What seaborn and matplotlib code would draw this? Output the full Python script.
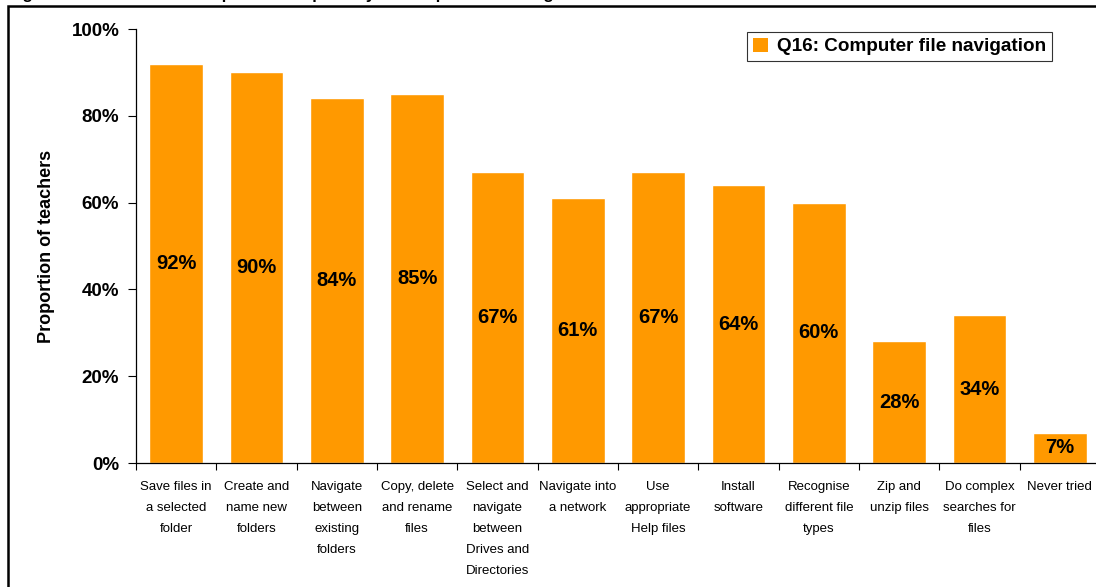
import matplotlib
matplotlib.use("Agg")
import matplotlib.pyplot as plt
import matplotlib.patches as mpatches
from matplotlib.ticker import FixedLocator, PercentFormatter
import seaborn as sns
import pandas as pd

categories = [
    "Save files in\na selected\nfolder",
    "Create and\nname new\nfolders",
    "Navigate\nbetween\nexisting\nfolders",
    "Copy, delete\nand rename\nfiles",
    "Select and\nnavigate\nbetween\nDrives and\nDirectories",
    "Navigate into\na network",
    "Use\nappropriate\nHelp files",
    "Install\nsoftware",
    "Recognise\ndifferent file\ntypes",
    "Zip and\nunzip files",
    "Do complex\nsearches for\nfiles",
    "Never tried",
]
values = [92, 90, 84, 85, 67, 61, 67, 64, 60, 28, 34, 7]
series_name = "Q16: Computer file navigation"
y_ticks = [0, 20, 40, 60, 80, 100]

ORANGE = "#FF9900"

sns.set_theme(style="white")
plt.rcParams["font.family"] = ["Liberation Sans", "DejaVu Sans"]
plt.rcParams.update({"text.color": "black", "axes.labelcolor": "black",
                     "xtick.color": "black", "ytick.color": "black"})

df = pd.DataFrame({"category": categories, "value": values})

fig = plt.figure(figsize=(10.96, 5.87), dpi=100)
ax = fig.add_axes([136 / 1096, 1 - 463 / 587, 964 / 1096, (463 - 29) / 587])

sns.barplot(data=df, x="category", y="value", color=ORANGE, saturation=1,
            width=0.67, ax=ax, label=series_name)

ax.set_xlim(-0.5, len(categories) - 0.5)
ax.set_ylim(0, 100)

# value labels in the middle of each bar
for i, v in enumerate(values):
    ax.text(i, v / 2, f"{v}%", ha="center", va="center",
            fontsize=14.5, fontweight="bold", color="black")

# y axis
ax.yaxis.set_major_locator(FixedLocator(y_ticks))
ax.yaxis.set_major_formatter(PercentFormatter(decimals=0))
for lab in ax.get_yticklabels():
    lab.set_fontweight("bold")
    lab.set_fontsize(13.5)
ax.tick_params(axis="y", which="major", direction="out", length=6, width=0.8,
               color="black", left=True, pad=6)
ax.set_ylabel("Proportion of teachers", fontsize=13, fontweight="bold",
              labelpad=12)

# x axis: labels under bars, tick marks between categories
ax.set_xlabel("")
ax.set_xticks(range(len(categories)))
ax.set_xticklabels(categories, fontsize=9.5, linespacing=2.0, va="top")
ax.tick_params(axis="x", which="major", length=0, pad=13)
ax.set_xticks([i - 0.5 for i in range(len(categories) + 1)], minor=True)
ax.tick_params(axis="x", which="minor", direction="out", length=5, width=0.8,
               color="black", bottom=True)

for side in ("top", "right"):
    ax.spines[side].set_visible(False)
for side in ("left", "bottom"):
    ax.spines[side].set_color("black")
    ax.spines[side].set_linewidth(0.9)

# legend
handles = [mpatches.Patch(facecolor=ORANGE, edgecolor="none")]
leg = ax.legend(handles, [series_name], loc="upper left",
                bbox_to_anchor=(611 / 964, 0.993), frameon=True, fancybox=False,
                prop={"size": 13.6, "weight": "bold"}, handlelength=0.8,
                handleheight=0.8, handletextpad=0.5, borderpad=0.3,
                borderaxespad=0)
leg.get_frame().set_edgecolor("black")
leg.get_frame().set_linewidth(0.8)

# outer frame around the chart
fig.patches.append(mpatches.Rectangle((8 / 1096, -0.2), 1.2, 1.2 - 6 / 587,
                                      transform=fig.transFigure, fill=False,
                                      edgecolor="black", linewidth=1.8,
                                      zorder=10))

# figure caption sitting above the frame
fig.text(8 / 1096, 1 + 1 / 587,
         "Figure 16: Teachers' self-reported competency in Computer file navigation",
         fontsize=12, fontweight="bold", ha="left", va="baseline")

fig.savefig("out.png", dpi=100)
